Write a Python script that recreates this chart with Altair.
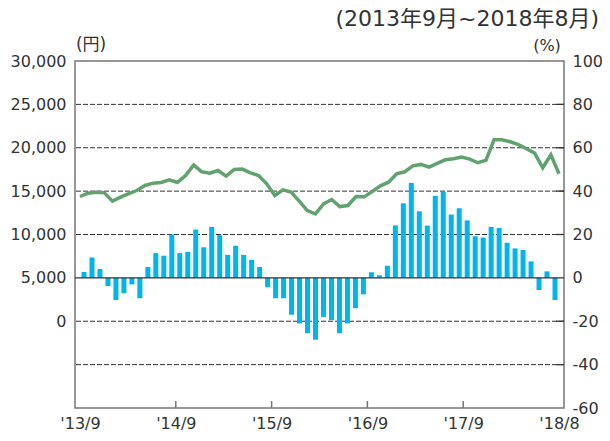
import json
import altair as alt
import pandas as pd

# ---- data ----
months = list(range(60))  # 2013/9 .. 2018/8
pct_change = [
    2.7, 9.4, 4.1, -3.8, -10.2, -7.1, -3.0, -9.4, 5.0, 11.4,
    10.2, 20.0, 11.4, 12.0, 22.3, 14.1, 23.5, 19.7, 10.6, 14.8,
    10.6, 8.3, 5.0, -4.3, -9.4, -9.4, -17.0, -21.0, -25.5, -28.5,
    -18.0, -19.5, -25.5, -21.0, -14.0, -7.6, 2.6, 1.2, 5.6, 24.2,
    34.4, 43.8, 30.7, 24.1, 37.8, 39.8, 29.2, 32.1, 26.5, 19.2,
    18.6, 23.5, 23.0, 16.2, 13.6, 12.9, 7.6, -5.6, 3.0, -10.2,
]
yen_value = [
    14380, 14760, 14880, 14800, 13840, 14300, 14720, 15070, 15650, 15920,
    16000, 16300, 16000, 16800, 18000, 17230, 17070, 17380, 16730, 17500,
    17540, 17110, 16800, 15840, 14490, 15150, 14880, 13840, 12760, 12380,
    13530, 14030, 13220, 13340, 14380, 14340, 14960, 15610, 16030, 17000,
    17230, 17920, 18080, 17770, 18190, 18610, 18730, 18920, 18690, 18270,
    18540, 20920, 20920, 20690, 20350, 19880, 19380, 17690, 19190, 17000,
]
x_ticks = [0, 12, 24, 36, 48, 60]
x_labels = ["'13/9", "'14/9", "'15/9", "'16/9", "'17/9", "'18/8"]
yen_ticks = [0, 5000, 10000, 15000, 20000, 25000, 30000]
pct_ticks = [-60, -40, -20, 0, 20, 40, 60, 80, 100]
dashed_pct = [80, 60, 40, 20, -20, -40]
inner_tick_pct = [80, 60, 40, 20, -20, -40]
period_title = "(2013年9月~2018年8月)"
yen_unit = "(円)"
pct_unit = "(%)"

# ---- style ----
FONT = "DejaVu Sans"
CJK = '"DejaVu Sans", "Noto Sans CJK JP"'
BLUE = "#00b4ee"
GREEN = "#62a26f"
INK = "#333333"
W, H = 489, 347

df = pd.DataFrame({"m": months, "pct": pct_change, "yen": yen_value})
df["xb"] = df["m"] + 0.5
df["xl"] = df["m"] * 60 / 59
df["base"] = 0

xs = alt.Scale(domain=[0, 60], nice=False, zero=False)
pct_scale = alt.Scale(domain=[-60, 100], nice=False, zero=False)
yen_scale = alt.Scale(domain=[-10000, 30000], nice=False, zero=False)

x_axis = alt.Axis(values=x_ticks, labelExpr=json.dumps(x_labels) + "[round(datum.value/12)]",
                  ticks=False, domain=False, grid=False, labelPadding=20, labelBaseline="alphabetic",
                  title=None, labelFlush=False, labelOverlap=False, labelFontSize=16)
pct_axis = alt.Axis(orient="right", values=pct_ticks, ticks=False, domain=False, grid=False,
                    labelPadding=8, title=None, labelOverlap=False, labelFontSize=16,
                    labelExpr="datum.value < 0 ? '-' + abs(datum.value) : '' + datum.value")
yen_axis = alt.Axis(orient="left", values=yen_ticks, format=",d", ticks=False, domain=False,
                    grid=False, labelPadding=9, title=None, labelOverlap=False, labelFontSize=16)

grid = alt.Chart(pd.DataFrame({"v": dashed_pct})).mark_rule(
    strokeDash=[5, 2], color=INK, strokeWidth=1
).encode(y=alt.Y("v:Q", scale=pct_scale, axis=pct_axis))

bars = alt.Chart(df).mark_bar(size=5, color=BLUE).encode(
    x=alt.X("xb:Q", scale=xs, axis=x_axis),
    y=alt.Y("pct:Q", scale=pct_scale, axis=pct_axis),
    y2="base:Q",
)

zero_line = alt.Chart(pd.DataFrame({"v": [0]})).mark_rule(color=INK, strokeWidth=1.3).encode(
    y=alt.Y("v:Q", scale=pct_scale, axis=pct_axis)
)

right_ticks = alt.Chart(pd.DataFrame({"v": inner_tick_pct})).mark_rule(color=INK, strokeWidth=1.3).encode(
    y=alt.Y("v:Q", scale=pct_scale, axis=pct_axis),
    x=alt.value(W - 8),
    x2=alt.value(W),
)

bottom_ticks = alt.Chart(pd.DataFrame({"t": x_ticks[1:-1]})).mark_rule(color="#777777", strokeWidth=1.5).encode(
    x=alt.X("t:Q", scale=xs, axis=x_axis),
    y=alt.value(H),
    y2=alt.value(H - 7),
)

title_txt = alt.Chart(pd.DataFrame({"t": [period_title]})).mark_text(
    font=CJK, fontSize=22, color=INK, align="right", baseline="top"
).encode(text="t:N", x=alt.value(W + 35), y=alt.value(-52))

yen_txt = alt.Chart(pd.DataFrame({"t": [yen_unit]})).mark_text(
    font=CJK, fontSize=17, color=INK, align="center", baseline="middle"
).encode(text="t:N", x=alt.value(16), y=alt.value(-16))

pct_txt = alt.Chart(pd.DataFrame({"t": [pct_unit]})).mark_text(
    font=CJK, fontSize=16, color=INK, align="center", baseline="middle"
).encode(text="t:N", x=alt.value(W - 17), y=alt.value(-15))

pct_layer = alt.layer(grid, bars, zero_line, right_ticks, bottom_ticks, title_txt, yen_txt, pct_txt)

line = alt.Chart(df).mark_line(color=GREEN, strokeWidth=3.5).encode(
    x=alt.X("xl:Q", scale=xs, axis=x_axis),
    y=alt.Y("yen:Q", scale=yen_scale, axis=yen_axis),
)

chart = alt.layer(pct_layer, line).resolve_scale(y="independent").properties(
    width=W,
    height=H,
    padding={"left": 67, "top": 53, "right": 38, "bottom": 25},
    autosize=alt.AutoSizeParams(type="none"),
).configure_view(
    stroke="#777777", strokeWidth=1.5
).configure_axis(
    labelFont=FONT, labelColor=INK
)

chart.save("out.html", embed_options={"renderer": "svg", "actions": False})
